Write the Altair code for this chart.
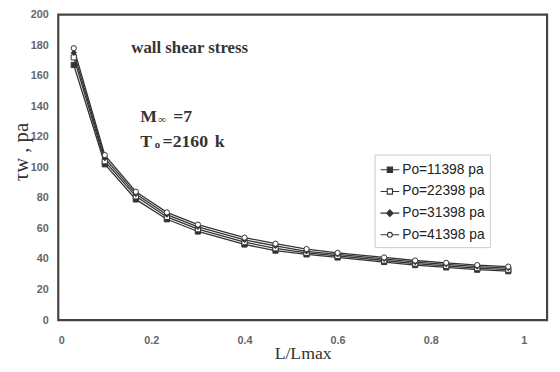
import altair as alt
import pandas as pd

# ---- data ----
x_pos = [1/30, 3/30, 5/30, 7/30, 9/30, 12/30, 14/30, 16/30, 18/30, 21/30, 23/30, 25/30, 27/30, 29/30]
series_names = ["Po=11398 pa", "Po=22398 pa", "Po=31398 pa", "Po=41398 pa"]
tau_11398 = [167, 102, 79, 66, 58, 49.5, 45.5, 43, 41, 38, 36, 34.5, 33, 32]
tau_22398 = [172, 104, 81, 67.5, 59.5, 51, 47, 44, 42, 39, 37, 35.5, 34, 33]
tau_31398 = [175, 106, 82.5, 69, 61, 52.5, 48.5, 45, 43, 40, 38, 36.5, 35, 34]
tau_41398 = [178, 108, 84, 70.5, 62.5, 54, 50, 46.5, 44, 41, 39, 37.5, 36, 35]

x_ticks = [0, 0.2, 0.4, 0.6, 0.8, 1.0]
y_ticks = [0, 20, 40, 60, 80, 100, 120, 140, 160, 180, 200]

# annotations (data coordinates)
head_text = ["wall shear stress"]
head_x = [0.157]
head_y = [174.8]
param_text = ["M", "=7", "T", "=2160", "k"]
param_x = [0.176, 0.247, 0.176, 0.224, 0.336]
param_y = [129.5, 129.5, 113.0, 113.0, 113.0]
sub_text = ["\u221e", "o"]
sub_x = [0.215, 0.207]
sub_y = [128.8, 112.5]

rows = []
for name, vals in zip(series_names, [tau_11398, tau_22398, tau_31398, tau_41398]):
    for xv, yv in zip(x_pos, vals):
        rows.append({"x": xv, "tau": yv, "series": name})
df = pd.DataFrame(rows)

ink = "#333333"
xs = alt.Scale(domain=[0, 1.05], nice=False)
ys = alt.Scale(domain=[0, 200], nice=False)

X = alt.X("x:Q", scale=xs, axis=alt.Axis(
    values=x_ticks, format="~g", title="L/Lmax", titleFont="Liberation Serif",
    titleFontSize=18, titleFontWeight="normal", titleColor="#333",
    titleBaseline="middle", titleY=34, labelPadding=15))
Y = alt.Y("tau:Q", scale=ys, axis=alt.Axis(
    values=y_ticks, title="\u03c4w , pa", titleFont="Liberation Serif",
    titleFontSize=21, titleFontWeight="normal", titleColor="#333",
    titleBaseline="middle", titleX=-37, titleY=139, labelPadding=10))

lines = alt.Chart(df).mark_line(color=ink, strokeWidth=1.3).encode(
    x=X, y=Y, detail="series:N")

fill_range = [ink, "white", ink, "white"]
points = alt.Chart(df).mark_point(size=28, stroke=ink, strokeWidth=1, opacity=1).encode(
    x=X, y=Y,
    shape=alt.Shape("series:N", scale=alt.Scale(domain=series_names,
                    range=["square", "square", "diamond", "circle"]), legend=None),
    fill=alt.Fill("series:N", scale=alt.Scale(domain=series_names, range=fill_range), legend=None),
)

leg_paths = [
    "M-1,0H-0.28M0.28,0H1M-0.28,-0.28H0.28V0.28H-0.28Z",
    "M-1,0H-0.28M0.28,0H1M-0.28,-0.28H0.28V0.28H-0.28Z",
    "M-1,0H-0.35M0.35,0H1M0,-0.35L0.35,0L0,0.35L-0.35,0Z",
    "M-1,0H-0.26M0.26,0H1M-0.26,0A0.26,0.26 0 1,0 0.26,0A0.26,0.26 0 1,0 -0.26,0Z",
]
leg = alt.Legend(title=None, orient="none", legendX=321, legendY=142,
                 labelFont="Liberation Sans", labelFontSize=14, labelColor="#222",
                 labelFontWeight="normal", symbolSize=361, symbolStrokeWidth=1.1,
                 rowPadding=4, labelOffset=2, padding=5,
                 strokeColor="#cccccc", fillColor="white")
legend_layer = alt.Chart(df).transform_filter("datum.x < 0").mark_point(
    size=361, stroke=ink, strokeWidth=1.1, opacity=1).encode(
    x=X, y=Y,
    shape=alt.Shape("series:N", scale=alt.Scale(domain=series_names, range=leg_paths), legend=leg),
    fill=alt.Fill("series:N", scale=alt.Scale(domain=series_names, range=fill_range), legend=leg),
)

head_df = pd.DataFrame({"x": head_x, "tau": head_y, "t": head_text})
param_df = pd.DataFrame({"x": param_x, "tau": param_y, "t": param_text})
sub_df = pd.DataFrame({"x": sub_x, "tau": sub_y, "t": sub_text})

head = alt.Chart(head_df).mark_text(align="left", baseline="alphabetic", font="Liberation Serif",
                                     fontWeight="bold", fontSize=17, color=ink).encode(x=X, y=Y, text="t:N")
params = alt.Chart(param_df).mark_text(align="left", baseline="alphabetic", font="Liberation Serif",
                                        fontWeight="bold", fontSize=18, color=ink).encode(x=X, y=Y, text="t:N")
subs = alt.Chart(sub_df).mark_text(align="left", baseline="alphabetic", font="Liberation Serif",
                                    fontWeight="bold", fontSize=11, color=ink).encode(x=X, y=Y, text="t:N")

chart = alt.layer(lines, points, legend_layer, head, params, subs).resolve_scale(
    shape="independent", fill="independent"
).properties(
    width=496, height=310,
    autosize=alt.AutoSizeParams(type="none"),
    padding={"left": 51, "top": 4, "right": 5, "bottom": 48},
    background="white",
).configure_view(
    stroke="#444444", strokeWidth=2.2
).configure_axis(
    grid=False, ticks=False, tickSize=0, domain=False,
    labelFont="Liberation Sans", labelFontSize=11, labelFontWeight="bold", labelColor="#666666",
)

chart.save("out.html", embed_options={"renderer": "svg", "actions": False})
